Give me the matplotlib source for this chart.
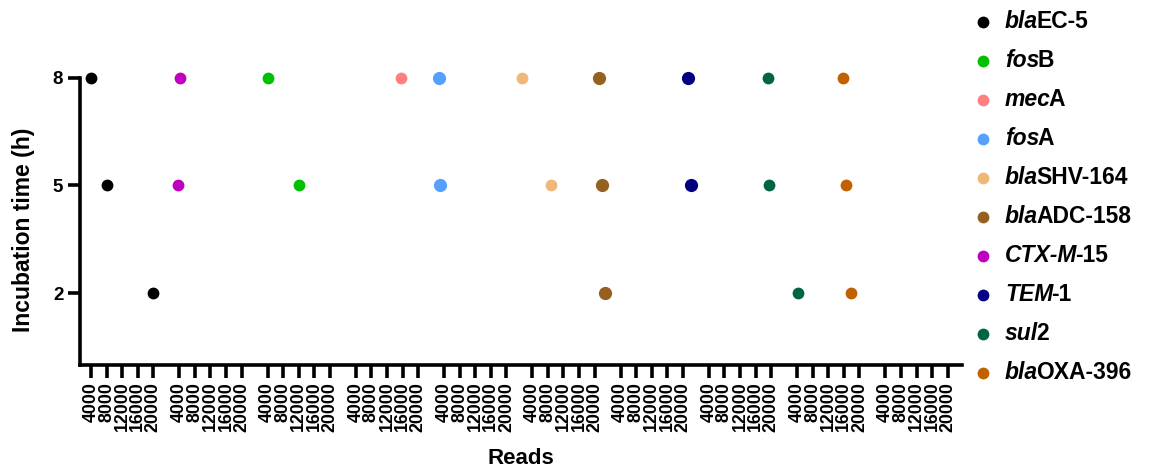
import matplotlib
matplotlib.use("Agg")
import matplotlib.pyplot as plt
from matplotlib.lines import Line2D

plt.rcParams['font.family'] = ['Liberation Sans', 'DejaVu Sans']
plt.rcParams['font.weight'] = 'bold'

# genes (italic part + upright part of the name), legend order
gene_italic = ['bla', 'fos', 'mec', 'fos', 'bla', 'bla', 'CTX-M', 'TEM', 'sul', 'bla']
gene_rest = ['EC-5', 'B', 'A', 'A', 'SHV-164', 'ADC-158', '-15', '-1', '2', 'OXA-396']
colors = ['#000000', '#00c000', '#ff8080', '#55a0ff', '#f0b878',
          '#956020', '#c000c0', '#000080', '#006640', '#c06000']

# each point: panel on the x axis, reads within that panel, incubation time (h)
panel = [[0, 0, 0], [2, 2], [3], [4, 4], [5, 5], [5, 5, 5], [1, 1], [6, 6], [7, 7, 8], [8, 8, 8]]
reads = [[4000, 8000, 20000], [4000, 12000], [15700], [2600, 3000], [1400, 8900],
         [21200, 22000, 22600], [4150, 3600], [21200, 22000], [19200, 19500, 4300],
         [15700, 16500, 17900]]
hours = [[8, 5, 2], [8, 5], [8], [8, 5], [8, 5], [8, 5, 2], [8, 5], [8, 5], [8, 5, 2], [8, 5, 2]]
msize = [8.5, 8.5, 8.5, 9.5, 8.5, 9.5, 8.5, 9.5, 8.5, 8.5]

tick_reads = [4000, 8000, 12000, 16000, 20000]
n_panels = 10
PANEL_W = 22640  # width of one panel in reads

W, H = 1159, 470
fig = plt.figure(figsize=(W / 100, H / 100), dpi=100)
ax = fig.add_axes([80 / W, 105 / H, 881.7 / W, 287.3 / H])

for i in range(len(gene_italic)):
    x = [p * PANEL_W + r for p, r in zip(panel[i], reads[i])]
    ax.plot(x, hours[i], 'o', color=colors[i], ms=msize[i], mec='none', clip_on=False, zorder=3)

# repeated x ticks, one set per panel
xt, xl = [], []
for p in range(n_panels):
    for r in tick_reads:
        xt.append(p * PANEL_W + r)
        xl.append(str(r))
ax.set_xticks(xt)
ax.set_xticklabels(xl, rotation=90, fontsize=12.8)
ax.set_xlim(1180, (n_panels - 1) * PANEL_W + 23590)

ax.set_ylim(0, 8)
ax.set_yticks([2, 5, 8])
ax.set_yticklabels(['2', '5', '8'], fontsize=13.5)

for s in ['top', 'right']:
    ax.spines[s].set_visible(False)
for s in ['left', 'bottom']:
    ax.spines[s].set_linewidth(2.6)
ax.tick_params(axis='both', width=2.6, length=9, pad=3)

ax.set_ylabel('Incubation time (h)', fontsize=16.5, fontweight='bold')
ax.yaxis.set_label_coords(-0.051, 0.47)
ax.set_xlabel('Reads', fontsize=16, fontweight='bold', va='top')
ax.xaxis.set_label_coords(0.5, -0.288)

# legend drawn by hand for the mixed italic / upright names
for i in range(len(gene_italic)):
    y = 1 - (21.7 + 39.0 * i) / H
    fig.add_artist(Line2D([983 / W], [y], marker='o', color=colors[i], ms=8.5, mec='none'))
    t1 = fig.text(1005 / W, y, gene_italic[i], fontsize=16.5, fontweight='bold',
                  style='italic', va='center', ha='left')
    ax.annotate(gene_rest[i], xy=(1, 0.5), xycoords=t1, xytext=(-1.5, 0),
                textcoords='offset points', va='center', ha='left',
                fontsize=16.5, fontweight='bold', annotation_clip=False)

fig.savefig('out.png', dpi=100)
